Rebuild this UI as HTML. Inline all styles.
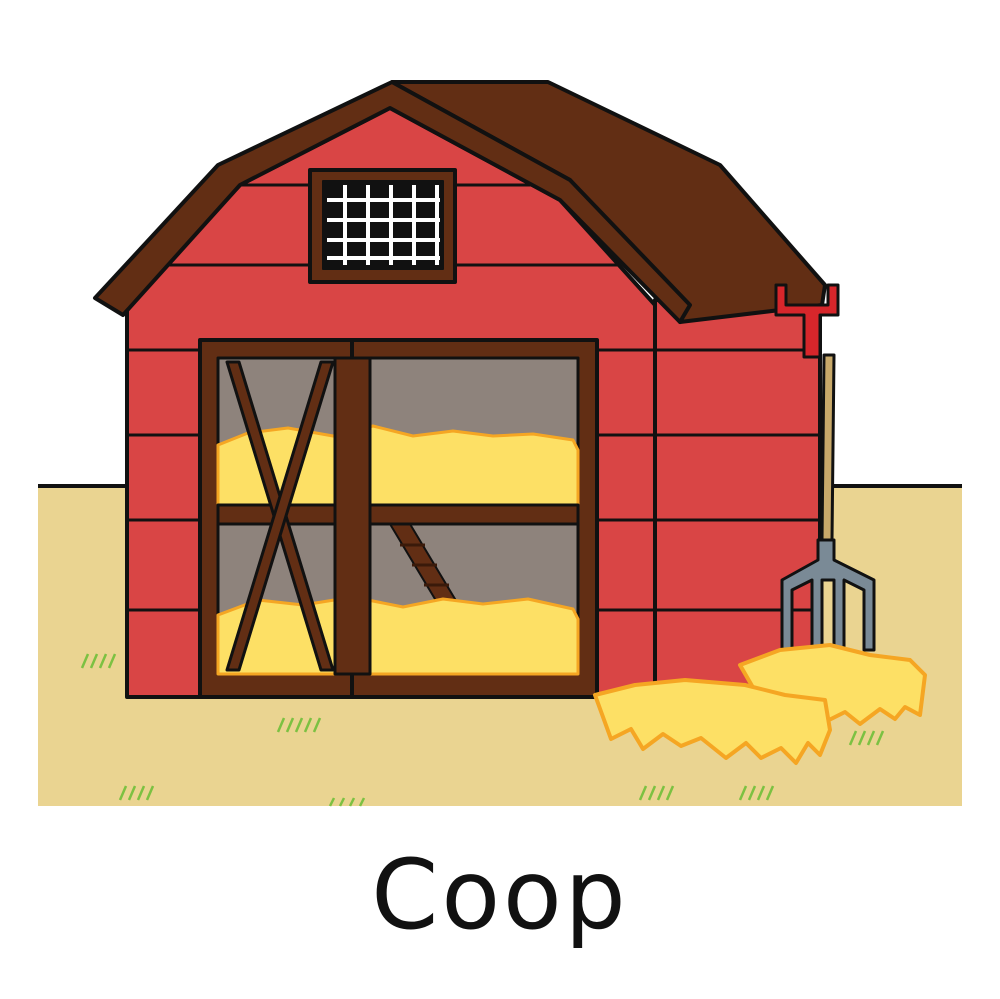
<!DOCTYPE html>
<html><head><meta charset="utf-8"><style>
html,body{margin:0;padding:0;background:#fff;width:1000px;height:999px;overflow:hidden}
svg{display:block}
</style></head><body>
<svg width="1000" height="999" viewBox="0 0 1000 999">
<g>
<rect x="38" y="486" width="924" height="320" fill="#ead491"/>
<line x1="38" y1="486" x2="962" y2="486" stroke="#111" stroke-width="4"/>
<g stroke="#7cc142" stroke-width="2.5" fill="none">
<path d="M82 668l6-14M91 668l6-14M100 668l6-14M109 668l6-14"/>
<path d="M278 732l6-14M287 732l6-14M296 732l6-14M305 732l6-14M314 732l6-14"/>
<path d="M120 800l6-14M129 800l6-14M138 800l6-14M147 800l6-14"/>
<path d="M640 800l6-14M649 800l6-14M658 800l6-14M667 800l6-14"/>
<path d="M740 800l6-14M749 800l6-14M758 800l6-14M767 800l6-14"/>
<path d="M850 745l6-14M859 745l6-14M868 745l6-14M877 745l6-14"/>
<path d="M330 806l4-8M340 806l4-8M350 806l4-8M360 806l4-8"/>
</g>
</g>
<g stroke="#111" stroke-width="4" stroke-linejoin="round">
<rect x="655" y="300" width="165" height="397" fill="#d94545"/>
<polygon points="127,305 240,185 390,108 560,200 655,305 655,697 127,697" fill="#d94545"/>
<g stroke-width="3" fill="none">
<path d="M240 185H560M160 265H620M127 350H200M597 350H655M127 435H200M597 435H655M127 520H200M597 520H655M127 610H200M597 610H655"/>
<path d="M655 350H820M655 435H820M655 520H820M655 610H820"/>
</g>
<polygon points="392,82 548,82 720,165 825,285 822,305 680,322 570,180" fill="#622e14"/>
<polygon points="95,298 218,165 392,82 570,180 690,305 680,322 560,200 390,108 240,185 123,315" fill="#622e14"/>
<g>
<rect x="310" y="170" width="145" height="112" fill="#622e14"/>
<rect x="323" y="181" width="120" height="88" fill="#111" stroke-width="2"/>
<g stroke="#fff" stroke-width="4">
<path d="M345 185V265M368 185V265M391 185V265M414 185V265M437 185V265"/>
<path d="M327 200H440M327 220H440M327 240H440M327 258H440"/>
</g>
</g>
<g>
<rect x="200" y="340" width="397" height="357" fill="#622e14"/>
<rect x="218" y="358" width="117" height="148" fill="#8e837c" stroke-width="3"/>
<rect x="218" y="524" width="117" height="150" fill="#8e837c" stroke-width="3"/>
<rect x="370" y="358" width="208" height="148" fill="#8e837c" stroke-width="3"/>
<rect x="370" y="524" width="208" height="150" fill="#8e837c" stroke-width="3"/>
<polygon points="390,524 410,524 500,674 480,674" fill="#622e14" stroke-width="2"/>
<path d="M400 545H425M412 565H437M424 585H449M436 605H461M448 625H473M460 645H485" stroke="#3a1a0a" stroke-width="3"/>
<g fill="#fde065" stroke="#f5a623" stroke-width="3">
<path d="M218 445l30-12 40-5 45 8 40-10 40 10 40-5 40 5 40-2 40 6 5 10V505H218Z"/>
<path d="M218 615l40-15 45 5 50-8 50 10 40-8 40 5 45 -5 45 10 5 10V674H218Z"/>
</g>
<path d="M218 505H578V524H218Z" fill="#622e14" stroke-width="3"/>
<line x1="352" y1="340" x2="352" y2="697" stroke-width="4"/>
<rect x="335" y="358" width="35" height="316" fill="#622e14" stroke-width="3"/>
<polygon points="227,362 239,362 333,670 321,670" fill="#622e14" stroke-width="3"/>
<polygon points="321,362 333,362 239,670 227,670" fill="#622e14" stroke-width="3"/>
</g>
</g>
<g stroke="#111" stroke-width="3" stroke-linejoin="round">
<polygon points="824,355 834,355 832,540 822,540" fill="#c8a96a"/>
<path d="M776 285h10v20h42v-20h10v30h-18v42h-16v-42h-28z" fill="#d7262b"/>
<path d="M818 540h16v20l40 20v70h-10v-60l-20-10v70h-10v-70h-12v70h-10v-70l-20 10v60h-10v-70l36-20z" fill="#7a8a96"/>
</g>
<g fill="#fde065" stroke="#f5a623" stroke-width="4" stroke-linejoin="round">
<path d="M740 665l40-15 50-5 40 10 40 5 15 15-5 40-15-8-10 12-15-10-20 15-15-12-20 10-30-10-25 5z"/>
<path d="M595 695l40-10 50-5 60 5 40 10 40 5 5 30-10 25-12-12-12 20-15-15-20 10-15-15-20 15-25-20-20 8-18-12-20 15-12-20-20 10z"/>
</g>
<text x="500" y="928" text-anchor="middle" font-family="'DejaVu Sans', 'Liberation Sans', sans-serif" font-size="96" letter-spacing="3" fill="#111">Coop</text>
</svg>
</body></html>
